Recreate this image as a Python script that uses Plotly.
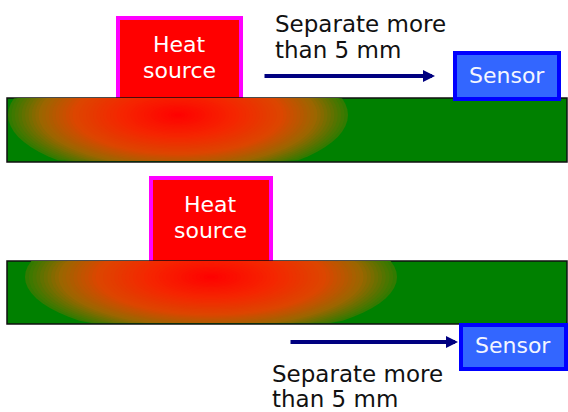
import math
import plotly.graph_objects as go

W, H = 568, 412
FONT = "DejaVu Sans"

# ---------------- diagram content ----------------
panels = ["upper", "lower"]

bar_left = [7, 7]
bar_right = [567, 567]
bar_top = [98, 261]
bar_bottom = [162, 324]

heat_x0 = [118, 151]
heat_x1 = [241, 271]
heat_y0 = [18, 178]
heat_y1 = [100, 263]
heat_lines = [["Heat", "source"], ["Heat", "source"]]
heat_cx = [179, 210]
heat_line_y = [[44, 70.5], [204, 230]]

sensor_x0 = [455, 461]
sensor_x1 = [559, 566]
sensor_y0 = [53, 325]
sensor_y1 = [99, 369]
sensor_text = ["Sensor", "Sensor"]
sensor_tx = [507, 513]
sensor_ty = [75, 345]

arrow_x0 = [263, 289]
arrow_x1 = [435, 458]
arrow_y = [76, 342]

note_lines = [["Separate more", "than 5 mm"], ["Separate more", "than 5 mm"]]
note_x = [273, 270]
note_line_y = [[24, 49.5], [374, 398.5]]

glow_cx = [178, 211]
glow_cy = [115, 277]
glow_rx = [170, 186]
glow_ry = [64, 62]

# ---------------- colours ----------------
GREEN = "#008000"
HEAT_FILL = "#FF0000"
HEAT_EDGE = "#FF00FF"
SENSOR_FILL = "#3366FF"
SENSOR_EDGE = "#0000FF"
ARROW = "#000080"
glow_stops = [(0.0, (255, 0, 0)), (0.35, (245, 38, 0)), (0.62, (220, 70, 0)),
              (0.82, (155, 102, 0)), (1.0, (50, 122, 0))]
N_LAYERS = 50


def ramp(k):
    for (k0, c0), (k1, c1) in zip(glow_stops, glow_stops[1:]):
        if k <= k1:
            t = (k - k0) / (k1 - k0)
            return "rgb(%d,%d,%d)" % tuple(round(a + (b - a) * t) for a, b in zip(c0, c1))
    return "rgb(%d,%d,%d)" % glow_stops[-1][1]


def glow_path(i, k):
    pts = []
    for j in range(73):
        a = 2 * math.pi * j / 72
        x = glow_cx[i] + k * glow_rx[i] * math.cos(a)
        y = glow_cy[i] + k * glow_ry[i] * math.sin(a)
        x = min(max(x, bar_left[i]), bar_right[i])
        y = min(max(y, bar_top[i]), bar_bottom[i] - 1)
        pts.append("%.2f,%.2f" % (x, y))
    return "M" + " L".join(pts) + " Z"


shapes = []
annotations = []

for i in range(len(panels)):
    # heat source box (bottom edge hidden under the bar)
    shapes.append(dict(type="rect", x0=heat_x0[i], x1=heat_x1[i], y0=heat_y0[i], y1=heat_y1[i],
                       fillcolor=HEAT_FILL, line=dict(color=HEAT_EDGE, width=4)))

for i in range(len(panels)):
    # substrate bar
    shapes.append(dict(type="rect", x0=bar_left[i], x1=bar_right[i], y0=bar_top[i], y1=bar_bottom[i],
                       fillcolor=GREEN, line=dict(color="#111111", width=1.5)))
    # heat glow
    for n in range(N_LAYERS):
        k = 1.0 - n / N_LAYERS
        shapes.append(dict(type="path", path=glow_path(i, k), fillcolor=ramp(k),
                           line=dict(width=0)))

for i in range(len(panels)):
    shapes.append(dict(type="rect", x0=sensor_x0[i], x1=sensor_x1[i], y0=sensor_y0[i], y1=sensor_y1[i],
                       fillcolor=SENSOR_FILL, line=dict(color=SENSOR_EDGE, width=4)))

    for txt, ty in zip(heat_lines[i], heat_line_y[i]):
        annotations.append(dict(x=heat_cx[i], y=ty, xref="x", yref="y", text=txt, showarrow=False,
                                xanchor="center", yanchor="middle",
                                font=dict(family=FONT, size=22, color="white")))
    annotations.append(dict(x=sensor_tx[i], y=sensor_ty[i], xref="x", yref="y", text=sensor_text[i],
                            showarrow=False, xanchor="center", yanchor="middle",
                            font=dict(family=FONT, size=22, color="#F4F6FF")))
    for txt, ty in zip(note_lines[i], note_line_y[i]):
        annotations.append(dict(x=note_x[i], y=ty, xref="x", yref="y", text=txt, showarrow=False,
                                xanchor="left", yanchor="middle",
                                font=dict(family=FONT, size=23, color="#111111")))
    annotations.append(dict(x=arrow_x1[i], y=arrow_y[i], ax=arrow_x0[i], ay=arrow_y[i],
                            xref="x", yref="y", axref="x", ayref="y", text="",
                            showarrow=True, arrowhead=2, arrowsize=0.6, arrowwidth=4,
                            arrowcolor=ARROW, standoff=0, startstandoff=0))

fig = go.Figure()
fig.update_layout(
    width=W, height=H, autosize=False,
    margin=dict(l=0, r=0, t=0, b=0, pad=0),
    paper_bgcolor="white", plot_bgcolor="white",
    xaxis=dict(range=[0, W], visible=False, fixedrange=True),
    yaxis=dict(range=[H, 0], visible=False, fixedrange=True),
    shapes=shapes, annotations=annotations, showlegend=False,
)
fig.write_html("out.html", config={"displayModeBar": False},
               post_script="document.body.style.margin='0';document.body.style.overflow='hidden';")
